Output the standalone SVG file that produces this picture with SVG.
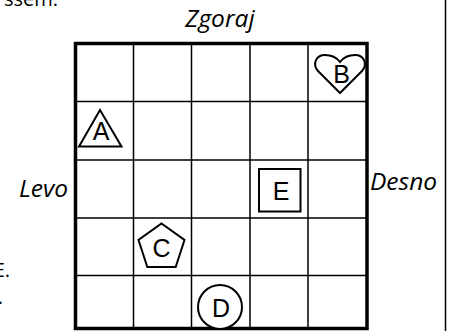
<svg xmlns="http://www.w3.org/2000/svg" width="454" height="331" viewBox="0 0 454 331">
<style>
.bg{fill:#fff}
.thin{stroke:#000;stroke-width:1.5;fill:none}
.thick{stroke:#000;stroke-width:3.5;fill:none}
.shape{stroke:#000;stroke-width:2;fill:#fff}
.lbl{font-family:"Liberation Sans",Arial,sans-serif;font-size:25px;fill:#000;text-anchor:middle}
.dir{font-family:"Open Sans","Noto Sans",sans-serif;font-style:italic;font-size:24.5px;fill:#000}
.frag{font-family:"Open Sans","Noto Sans",sans-serif;font-size:20px;fill:#000;text-anchor:end}
</style>
<rect class="bg" x="0" y="0" width="454" height="331"/>
<g id="fragments">
<text class="frag" x="58" y="6">ssem.</text>
<text class="frag" x="10" y="277">E.</text>
<text class="frag" x="3" y="304">.</text>
</g>
<line id="frame" x1="445.5" y1="0" x2="445.5" y2="331" stroke="#000" stroke-width="1.5"/>
<g id="grid">
<line class="thin" x1="133.5" y1="43" x2="133.5" y2="329"/>
<line class="thin" x1="191.5" y1="43" x2="191.5" y2="329"/>
<line class="thin" x1="250" y1="43" x2="250" y2="329"/>
<line class="thin" x1="308" y1="43" x2="308" y2="329"/>
<line class="thin" x1="75" y1="101.5" x2="367" y2="101.5"/>
<line class="thin" x1="75" y1="160" x2="367" y2="160"/>
<line class="thin" x1="75" y1="218" x2="367" y2="218"/>
<line class="thin" x1="75" y1="275.5" x2="367" y2="275.5"/>
<rect class="thick" x="75.5" y="43.5" width="291.5" height="285"/>
</g>
<g id="labels">
<text class="dir" x="220" y="27" text-anchor="middle">Zgoraj</text>
<text class="dir" x="68" y="197" text-anchor="end">Levo</text>
<text class="dir" x="370" y="190">Desno</text>
</g>
<g id="nodeA">
<polygon class="shape" points="100,110 121.5,146.5 79,146.5"/>
<text class="lbl" x="101" y="140">A</text>
</g>
<g id="nodeB">
<path class="shape" d="M340,93 L318,71 C312,64 316,55 325,55 C332,55 337,58 340,62 C343,58 348,55 355,55 C364,55 368,64 362,71 Z"/>
<text class="lbl" x="341.5" y="83">B</text>
</g>
<g id="nodeC">
<polygon class="shape" points="161.5,223.5 184.5,240 175.7,267 147.3,267 138.5,240"/>
<text class="lbl" x="161.5" y="256.5">C</text>
</g>
<g id="nodeD">
<circle class="shape" cx="220" cy="307" r="22"/>
<text class="lbl" x="221" y="316.5">D</text>
</g>
<g id="nodeE">
<rect class="shape" x="259" y="169" width="41.5" height="42.5"/>
<text class="lbl" x="281" y="200">E</text>
</g>
</svg>
